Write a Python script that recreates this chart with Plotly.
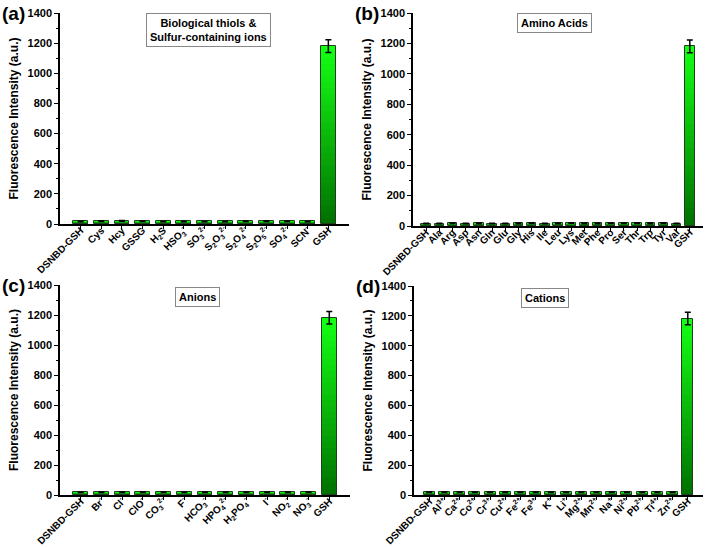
import plotly.graph_objects as go
from plotly.subplots import make_subplots

# ---------------- data ----------------
cats_a = ["DSNBD-GSH", "Cys", "Hcy", "GSSG", "H<sub>2</sub>S", "HSO<sub>3</sub><sup>-</sup>",
          "SO<sub>3</sub><sup>2-</sup>", "S<sub>2</sub>O<sub>3</sub><sup>2-</sup>",
          "S<sub>2</sub>O<sub>4</sub><sup>2-</sup>", "S<sub>2</sub>O<sub>5</sub><sup>2-</sup>",
          "SO<sub>4</sub><sup>2-</sup>", "SCN<sup>-</sup>", "GSH"]
vals_a = [17, 19, 21, 18, 17, 17, 17, 17, 18, 19, 18, 17, 1180]
errs_a = [2, 2, 2, 2, 2, 2, 2, 2, 2, 2, 2, 2, 42]

cats_b = ["DSNBD-GSH", "Ala", "Arg", "Asp", "Asn", "Gln", "Glu", "Gly", "His", "Ile", "Leu",
          "Lys", "Met", "Phe", "Pro", "Ser", "Thr", "Trp", "Tyr", "Val", "GSH"]
vals_b = [16, 16, 18, 16, 17, 16, 16, 17, 19, 16, 17, 20, 17, 17, 18, 18, 19, 17, 19, 16, 1180]
errs_b = [2] * 20 + [42]

cats_c = ["DSNBD-GSH", "Br<sup>-</sup>", "Cl<sup>-</sup>", "ClO<sup>-</sup>",
          "CO<sub>3</sub><sup>2-</sup>", "F<sup>-</sup>", "HCO<sub>3</sub><sup>-</sup>",
          "HPO<sub>4</sub><sup>2-</sup>", "H<sub>2</sub>PO<sub>4</sub><sup>-</sup>",
          "I<sup>-</sup>", "NO<sub>2</sub><sup>-</sup>", "NO<sub>3</sub><sup>-</sup>", "GSH"]
vals_c = [18, 18, 18, 18, 18, 18, 18, 18, 18, 18, 18, 18, 1182]
errs_c = [2] * 12 + [42]

cats_d = ["DSNBD-GSH", "Al<sup>3+</sup>", "Ca<sup>2+</sup>", "Co<sup>2+</sup>", "Cr<sup>3+</sup>",
          "Cu<sup>2+</sup>", "Fe<sup>2+</sup>", "Fe<sup>3+</sup>", "K<sup>+</sup>", "Li<sup>+</sup>",
          "Mg<sup>2+</sup>", "Mn<sup>2+</sup>", "Na<sup>+</sup>", "Ni<sup>2+</sup>",
          "Pb<sup>2+</sup>", "Ti<sup>4+</sup>", "Zn<sup>2+</sup>", "GSH"]
vals_d = [18] * 17 + [1182]
errs_d = [2] * 17 + [42]

panels = [
    ("(a)", "Biological thiols &<br>Sulfur-containing ions", cats_a, vals_a, errs_a),
    ("(b)", "Amino Acids", cats_b, vals_b, errs_b),
    ("(c)", "Anions", cats_c, vals_c, errs_c),
    ("(d)", "Cations", cats_d, vals_d, errs_d),
]

W, H = 708, 547
# pixel layout of each plot area: (x0, x1, ytop, ybottom)
boxes = [(60, 349, 13, 224), (413, 703, 13, 226), (60, 350, 285, 495), (414, 703, 286, 495)]
label_boxes = [(143, 274, 13, 48), (514, 595, 14, 31), (173, 222, 288, 306), (518, 571, 289, 306)]

fig = make_subplots(rows=2, cols=2)
bright = (20, 255, 20)
dark = (0, 110, 0)
N = 30
font_family = "Liberation Sans, Arial, sans-serif"

for p, (lab, title, cats, vals, errs) in enumerate(panels):
    r, c = p // 2 + 1, p % 2 + 1
    xs = list(range(len(cats)))
    bw = 0.72
    for i in range(N):
        f = 1 - i / N
        col = tuple(int(dark[k] + (bright[k] - dark[k]) * f) for k in range(3))
        fig.add_trace(go.Bar(x=xs, y=[v * f for v in vals], width=bw,
                             marker=dict(color="rgb(%d,%d,%d)" % col, line=dict(width=0)),
                             showlegend=False, hoverinfo="skip"), row=r, col=c)
    fig.add_trace(go.Bar(x=xs, y=vals, width=bw,
                         marker=dict(color="rgba(0,0,0,0)", line=dict(color="#1f3f1f", width=1)),
                         error_y=dict(type="data", array=errs, color="black", thickness=1.5, width=3),
                         showlegend=False, hoverinfo="skip"), row=r, col=c)
    x0, x1, yt, yb = boxes[p]
    xa = "xaxis" if p == 0 else "xaxis%d" % (p + 1)
    ya = "yaxis" if p == 0 else "yaxis%d" % (p + 1)
    fig.layout[xa].update(domain=[x0 / W, x1 / W], range=[-1, len(cats)], automargin=False,
                          tickvals=xs, ticktext=cats, tickangle=-45, ticklabelstandoff=-8,
                          showline=True, linecolor="black", linewidth=1.5,
                          ticks="outside", ticklen=3, tickcolor="black", showgrid=False,
                          zeroline=False,
                          tickfont=dict(family=font_family, size=10, color="black", weight="bold"))
    fig.layout[ya].update(domain=[(H - yb) / H, (H - yt) / H], range=[0, 1400], automargin=False,
                          tickvals=[0, 200, 400, 600, 800, 1000, 1200, 1400],
                          showline=True, linecolor="black", linewidth=1.5,
                          ticks="outside", ticklen=4, tickcolor="black", showgrid=False,
                          zeroline=False,
                          minor=dict(ticks="outside", ticklen=2, tickcolor="black", dtick=100),
                          title=dict(text="Fluorescence Intensity (a.u.)", standoff=6,
                                     font=dict(family=font_family, size=12, color="black", weight="bold")),
                          tickfont=dict(family=font_family, size=11, color="black", weight="bold"))
    # panel label
    fig.add_annotation(x=(x0 - 60) / W, y=(H - yt) / H, xref="paper", yref="paper",
                       text=lab, showarrow=False, xanchor="left", yanchor="middle",
                       font=dict(family=font_family, size=19, color="black", weight="bold"))
    # title box
    bx0, bx1, by0, by1 = label_boxes[p]
    fig.add_annotation(x=(bx0 + bx1) / 2 / W, y=(H - (by0 + by1) / 2) / H, xref="paper", yref="paper",
                       text=title, showarrow=False, xanchor="center", yanchor="middle",
                       bordercolor="#888888", borderwidth=1, borderpad=3, bgcolor="white",
                       font=dict(family=font_family, size=11, color="black", weight="bold"))

fig.update_layout(width=W, height=H, margin=dict(l=0, r=0, t=0, b=0),
                  barmode="overlay", bargap=0, plot_bgcolor="white", paper_bgcolor="white")
fig.write_html("out.html")
